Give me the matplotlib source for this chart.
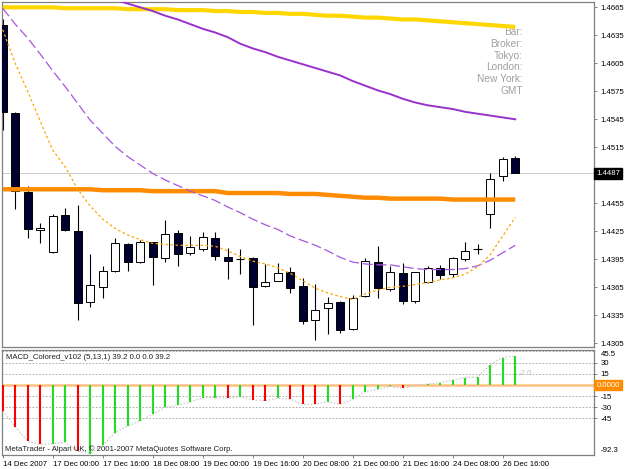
import matplotlib
matplotlib.use("Agg")
import matplotlib.pyplot as plt
from matplotlib.transforms import blended_transform_factory
import numpy as np

plt.rcParams['font.family'] = ['Liberation Sans', 'DejaVu Sans']

# EURUSD H4 bars, 14 Dec - 26 Dec 2007
opens = [1.4646, 1.4552, 1.4467, 1.4426, 1.4403, 1.4442, 1.4425, 1.4349, 1.4365, 1.4382,
         1.4411, 1.4392, 1.4413, 1.4396, 1.4423, 1.4402, 1.4406, 1.4418, 1.4397, 1.4395,
         1.4396, 1.4366, 1.4372, 1.4381, 1.4366, 1.4330, 1.4343, 1.4349, 1.4320, 1.4356,
         1.4392, 1.4363, 1.4380, 1.4350, 1.4371, 1.4386, 1.4379, 1.4395, 1.4406, 1.4444,
         1.4484, 1.4503]
highs = [1.4653, 1.4553, 1.4473, 1.4434, 1.4444, 1.4450, 1.4453, 1.4401, 1.4388, 1.4418,
         1.4412, 1.4416, 1.4414, 1.4437, 1.4426, 1.4420, 1.4424, 1.4424, 1.4407, 1.4406,
         1.4397, 1.4390, 1.4391, 1.4387, 1.4375, 1.4368, 1.4355, 1.4350, 1.4357, 1.4396,
         1.4409, 1.4388, 1.4391, 1.4381, 1.4388, 1.4389, 1.4397, 1.4414, 1.4411, 1.4487,
         1.4505, 1.4506]
lows = [1.4534, 1.4449, 1.4418, 1.4412, 1.4402, 1.4425, 1.4330, 1.4344, 1.4354, 1.4381,
        1.4382, 1.4391, 1.4367, 1.4392, 1.4388, 1.4400, 1.4404, 1.4394, 1.4374, 1.4379,
        1.4325, 1.4365, 1.4372, 1.4359, 1.4326, 1.4309, 1.4315, 1.4316, 1.4319, 1.4355,
        1.4354, 1.4361, 1.4347, 1.4348, 1.4370, 1.4374, 1.4376, 1.4393, 1.4401, 1.4429,
        1.4479, 1.4487]
closes = [1.4553, 1.4468, 1.4427, 1.4429, 1.4441, 1.4426, 1.4348, 1.4367, 1.4382, 1.4412,
          1.4392, 1.4414, 1.4397, 1.4422, 1.4401, 1.4408, 1.4419, 1.4398, 1.4393, 1.4395,
          1.4365, 1.4371, 1.4380, 1.4364, 1.4329, 1.4341, 1.4348, 1.4319, 1.4354, 1.4393,
          1.4364, 1.4381, 1.4350, 1.4381, 1.4386, 1.4378, 1.4396, 1.4404, 1.4406, 1.4481,
          1.4502, 1.4487]

# moving averages drawn on the price chart
ma_gold = [1.4665, 1.4665, 1.4665, 1.4665, 1.4665, 1.4664, 1.4664, 1.4664, 1.4664, 1.4664,
           1.4663, 1.4663, 1.4663, 1.4663, 1.4662, 1.4662, 1.4662, 1.4661, 1.4661, 1.4660,
           1.4660, 1.4659, 1.4659, 1.4658, 1.4658, 1.4657, 1.4656, 1.4656, 1.4655, 1.4654,
           1.4654, 1.4653, 1.4652, 1.4652, 1.4651, 1.4650, 1.4649, 1.4648, 1.4647, 1.4646,
           1.4645, 1.4644]
ma_purple = [1.4717, 1.4712, 1.4707, 1.4702, 1.4697, 1.4692, 1.4687, 1.4682, 1.4677, 1.4673,
             1.4669, 1.4665, 1.4661, 1.4656, 1.4652, 1.4647, 1.4642, 1.4638, 1.4633, 1.4626,
             1.4621, 1.4617, 1.4612, 1.4608, 1.4604, 1.4600, 1.4596, 1.4592, 1.4586, 1.4581,
             1.4576, 1.4572, 1.4567, 1.4563, 1.4560, 1.4558, 1.4556, 1.4553, 1.4551, 1.4549,
             1.4547, 1.4545]
ma_orange = [1.4470, 1.4470, 1.4470, 1.4470, 1.4470, 1.4470, 1.4470, 1.4470, 1.4469, 1.4469,
             1.4469, 1.4469, 1.4468, 1.4468, 1.4468, 1.4468, 1.4468, 1.4468, 1.4466, 1.4466,
             1.4466, 1.4466, 1.4466, 1.4465, 1.4465, 1.4465, 1.4464, 1.4463, 1.4462, 1.4461,
             1.4461, 1.4460, 1.4460, 1.4460, 1.4460, 1.4460, 1.4459, 1.4459, 1.4459, 1.4459,
             1.4459, 1.4459]
ma_purple_dash = [1.4664, 1.4647, 1.4632, 1.4615, 1.4597, 1.4580, 1.4562, 1.4544, 1.4530, 1.4516,
                  1.4505, 1.4496, 1.4487, 1.4480, 1.4474, 1.4468, 1.4463, 1.4458, 1.4451, 1.4445,
                  1.4438, 1.4432, 1.4427, 1.4420, 1.4415, 1.4410, 1.4404, 1.4397, 1.4392, 1.4390,
                  1.4389, 1.4389, 1.4387, 1.4385, 1.4384, 1.4384, 1.4384, 1.4385, 1.4388, 1.4394,
                  1.4402, 1.4410]
ma_orange_dot = [1.4641, 1.4605, 1.4575, 1.4543, 1.4512, 1.4494, 1.4470, 1.4452, 1.4438, 1.4428,
                 1.4421, 1.4416, 1.4412, 1.4411, 1.4410, 1.4410, 1.4410, 1.4409, 1.4404, 1.4398,
                 1.4393, 1.4390, 1.4386, 1.4380, 1.4372, 1.4364, 1.4359, 1.4355, 1.4352, 1.4358,
                 1.4362, 1.4365, 1.4366, 1.4368, 1.4370, 1.4373, 1.4375, 1.4379, 1.4387, 1.4400,
                 1.4420, 1.4440]

# MACD_Colored (5,13,1) histogram, signal period 1 -> same values
macd_hist = [-34.6, -56, -76, -80, -79, -77, -89, -92.3, -81, -64,
             -55, -48, -39.5, -30, -27, -23, -17, -17, -18, -15.7,
             -20, -21, -18, -19, -26, -26, -22.5, -26, -19, -9,
             -6, -2, -4.5, -0.5, 1.3, 3, 6.7, 10, 11, 27,
             37, 39.2]
macd_state = ['dn', 'dn', 'dn', 'dn', 'up', 'up', 'dn', 'up', 'up', 'up',
              'up', 'up', 'up', 'up', 'up', 'up', 'up', 'up', 'dn', 'up',
              'dn', 'dn', 'up', 'dn', 'dn', 'dn', 'up', 'dn', 'up', 'up',
              'up', 'up', 'dn', 'up', 'up', 'up', 'up', 'up', 'up', 'up',
              'up', 'up']

time_labels = ['14 Dec 2007', '17 Dec 00:00', '17 Dec 16:00', '18 Dec 08:00',
               '19 Dec 00:00', '19 Dec 16:00', '20 Dec 08:00', '21 Dec 00:00',
               '21 Dec 16:00', '24 Dec 08:00', '26 Dec 16:00']
price_ticks = [1.4665, 1.4635, 1.4605, 1.4575, 1.4545, 1.4515,
               1.4455, 1.4425, 1.4395, 1.4365, 1.4335, 1.4305]
macd_ticks = [30, 15, -15, -30, -45]
info_labels = ['Bar:', 'Broker:', 'Tokyo:', 'London:', 'New York:', 'GMT']
last_price = 1.4487

W, H = 625, 469
fig = plt.figure(figsize=(W / 100, H / 100), dpi=100)
fig.patch.set_facecolor('white')


def px_axes(x0, y0, x1, y1):
    return fig.add_axes([x0 / W, 1 - y1 / H, (x1 - x0) / W, (y1 - y0) / H])


ax = px_axes(2, 2, 594, 347)
ax2 = px_axes(2, 350, 594, 455)

x = np.arange(len(opens))
o, h, l, c = map(np.array, (opens, highs, lows, closes))
frame = '#808080'
small = 5.6

# ---- price panel ----
ax.axhline(last_price, color='#CCCCCC', lw=0.7, zorder=1)
ax.vlines(x, l, h, color='black', lw=0.8, zorder=2)
body = np.abs(c - o)
doji = body == 0
fill = np.where(c > o, 'white', '#000030')
ax.bar(x[~doji], body[~doji], bottom=np.minimum(o, c)[~doji], width=0.64,
       color=fill[~doji], edgecolor='black', lw=0.7, zorder=3)
ax.hlines(o[doji], x[doji] - 0.34, x[doji] + 0.34, color='black', lw=0.8, zorder=3)

ax.plot(x, ma_gold, color='#FFD700', lw=3.0, zorder=5, solid_capstyle='butt')
ax.plot(x, ma_orange, color='#FF8C00', lw=3.2, zorder=5, solid_capstyle='butt')
ax.plot(x, ma_purple, color='#9932CC', lw=1.4, zorder=5)
ax.plot(x, ma_purple_dash, color='#A855E0', lw=0.9, ls=(0, (8, 3)), zorder=5)
ax.plot(x, ma_orange_dot, color='#FFA500', lw=0.9, ls=(0, (2, 2)), zorder=5)

ax.set_xlim(-0.056, 47.3)
ax.set_ylim(1.4301, 1.46707)
ax.set_xticks([])
ax.set_yticks(price_ticks)
ax.set_yticklabels([f'{p:.4f}' for p in price_ticks])
ax.tick_params(axis='y', left=False, labelleft=False, right=True, labelright=True,
               length=2.5, width=0.7, color=frame, labelsize=small, pad=2)

tr = blended_transform_factory(ax.transAxes, ax.transData)
ax.text(1.004, last_price, f'{last_price:.4f}', transform=tr, color='white',
        fontsize=small, va='center', ha='left',
        bbox=dict(boxstyle='square,pad=0.25', fc='black', ec='black'))

for k, lab in enumerate(info_labels):
    ypx = 32.3 + 11.7 * k
    ax.text(0.880, 1 - (ypx - 2) / 345, lab, transform=ax.transAxes, ha='right',
            va='center', color='#A0A0A0', fontsize=7.3)

# ---- MACD panel ----
state_colors = {'up': '#22DD22', 'dn': '#FF0000'}
ax2.axhline(0, color='#FFC080', lw=1.8, zorder=1)
for t in macd_ticks + [45.5]:
    ax2.axhline(t, color='#A0A0A0', lw=0.6, ls=(0, (2, 2)), zorder=0)
ax2.plot(x, macd_hist, color='#C8C8C8', lw=0.8, ls=(0, (1.5, 1.5)), zorder=2)
ax2.vlines(x, 0, macd_hist, colors=[state_colors[s] for s in macd_state], lw=1.5, zorder=3)

ax2.set_xlim(-0.056, 47.3)
ax2.set_ylim(-94.2, 47.1)
ax2.set_yticks(macd_ticks)
ax2.set_yticklabels([str(t) for t in macd_ticks])
ax2.tick_params(axis='y', left=False, labelleft=False, right=True, labelright=True,
                length=2.5, width=0.7, color=frame, labelsize=small, pad=2)
ax2.set_xticks(x[::4])
ax2.set_xticklabels(time_labels, ha='left')
ax2.tick_params(axis='x', length=2.5, width=0.7, color=frame, labelsize=small, pad=1.5)

tr2 = blended_transform_factory(ax2.transAxes, ax2.transData)
ax2.text(1.012, 45.5, '45.5', transform=tr2, fontsize=small, va='top', ha='left')
ax2.text(1.012, -92.3, '-92.3', transform=tr2, fontsize=small, va='bottom', ha='left')
ax2.text(1.004, 0, '0.0000', transform=tr2, color='white', fontsize=small,
         va='center', ha='left',
         bbox=dict(boxstyle='square,pad=0.25', fc='#FF8C00', ec='#FF8C00'))
ax2.text(41.3, 16, '-2.0', color='#C0C0C0', fontsize=small, va='center', ha='left')
ax2.text(0.007, 0.927, 'MACD_Colored_v102 (5,13,1) 39.2 0.0 0.0 39.2',
         transform=ax2.transAxes, fontsize=small, va='center', ha='left', color='#202020')
ax2.text(0.005, 0.054, 'MetaTrader - Alpari UK, \u00a9 2001-2007 MetaQuotes Software Corp.',
         transform=ax2.transAxes, fontsize=small, va='center', ha='left', color='#202020')

for a in (ax, ax2):
    for s in a.spines.values():
        s.set_color(frame)
        s.set_linewidth(0.9)

fig.savefig('out.png', dpi=100, facecolor='white')
